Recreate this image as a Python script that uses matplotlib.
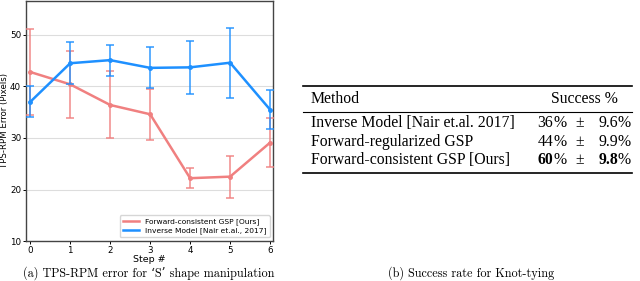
import numpy as np
import matplotlib.pyplot as plt
from matplotlib.lines import Line2D

steps = [0, 1, 2, 3, 4, 5, 6]
ours_mean = [42.8, 40.4, 36.4, 34.6, 22.2, 22.5, 29.1]
ours_err = [8.4, 6.5, 6.5, 4.9, 1.9, 4.1, 4.7]
inv_mean = [37.0, 44.5, 45.1, 43.6, 43.7, 44.6, 35.5]
inv_err = [3.0, 4.1, 3.0, 4.0, 5.2, 6.8, 3.8]
yticks = [10, 20, 30, 40, 50]

methods = ["Inverse Model [Nair et.al. 2017]", "Forward-regularized GSP",
           "Forward-consistent GSP [Ours]"]
succ = ["36", "44", "60"]
succ_err = ["9.6", "9.9", "9.8"]

RED = "#f08080"
BLUE = "#1e90ff"

fig = plt.figure(figsize=(6.4, 2.81), dpi=100)
ax = fig.add_axes([0.041, 0.142, 0.386, 0.855])

for mean, err, col, z in [(ours_mean, ours_err, RED, 3), (inv_mean, inv_err, BLUE, 4)]:
    ax.errorbar(steps, mean, yerr=err, fmt="none", ecolor=col, alpha=0.85,
                capsize=3, capthick=1.2, elinewidth=1.2, zorder=z)
    ax.plot(steps, mean, color=col, lw=1.8, marker="o", ms=2.5, zorder=z)

ax.set_xlim(-0.1, 6.08)
ax.set_ylim(10, 56.6)
ax.set_xticks(steps)
ax.set_yticks(yticks)
ax.yaxis.grid(True, color="#dddddd", lw=0.8)
ax.set_axisbelow(True)
ax.tick_params(labelsize=6.3, length=2.5, width=0.7, pad=1.2)
for s in ax.spines.values():
    s.set_color("#444444")
    s.set_linewidth(1.0)
ax.set_xlabel("Step #", fontsize=6.8, labelpad=0)
ax.set_ylabel("TPS-RPM Error (Pixels)", fontsize=6.2, labelpad=0.5)
handles = [Line2D([], [], color=RED, lw=1.8), Line2D([], [], color=BLUE, lw=1.8)]
leg = ax.legend(handles, ["Forward-consistent GSP [Ours]",
                          "Inverse Model [Nair et.al., 2017]"],
                loc="lower right", fontsize=5.4, frameon=True, borderpad=0.4,
                handlelength=2.2, labelspacing=0.3, fancybox=True,
                borderaxespad=0.5)
leg.get_frame().set_edgecolor("#cccccc")

cap = ["cmr10", "DejaVu Serif"]
fig.text(0.232, 0.028, "(a) TPS-RPM error for \u2018S\u2019 shape manipulation",
         ha="center", va="center", fontsize=8.8, family=cap)
fig.text(0.736, 0.028, "(b) Success rate for Knot-tying",
         ha="center", va="center", fontsize=8.8, family=cap)

# table
tf = ["Liberation Serif"]
W, H = 640.0, 281.0
x0, x1 = 303 / W, 632 / W
for yp, lw in [(86, 1.2), (112, 0.8), (173, 1.2)]:
    fig.add_artist(Line2D([x0, x1], [1 - yp / H] * 2, color="black", lw=lw))
fs = 11.3
fig.text(311 / W, 1 - 99 / H, "Method", fontsize=fs, family=tf, va="center")
fig.text(584 / W, 1 - 99 / H, "Success %", fontsize=fs, family=tf,
         va="center", ha="center")
for i, (m, s, e) in enumerate(zip(methods, succ, succ_err)):
    y = 1 - (123 + i * 18.5) / H
    w = "bold" if i == 2 else "normal"
    fig.text(311 / W, y, m, fontsize=fs, family=tf, va="center")
    fig.text(553 / W, y, s, fontsize=fs, family=tf, va="center", ha="right",
             weight=w)
    fig.text(553 / W, y, "%", fontsize=fs, family=tf, va="center")
    fig.text(580 / W, y, "\u00b1", fontsize=fs, family=tf, va="center",
             ha="center")
    fig.text(618 / W, y, e, fontsize=fs, family=tf, va="center", ha="right",
             weight=w)
    fig.text(618 / W, y, "%", fontsize=fs, family=tf, va="center")

fig.savefig("out.png", dpi=100)
